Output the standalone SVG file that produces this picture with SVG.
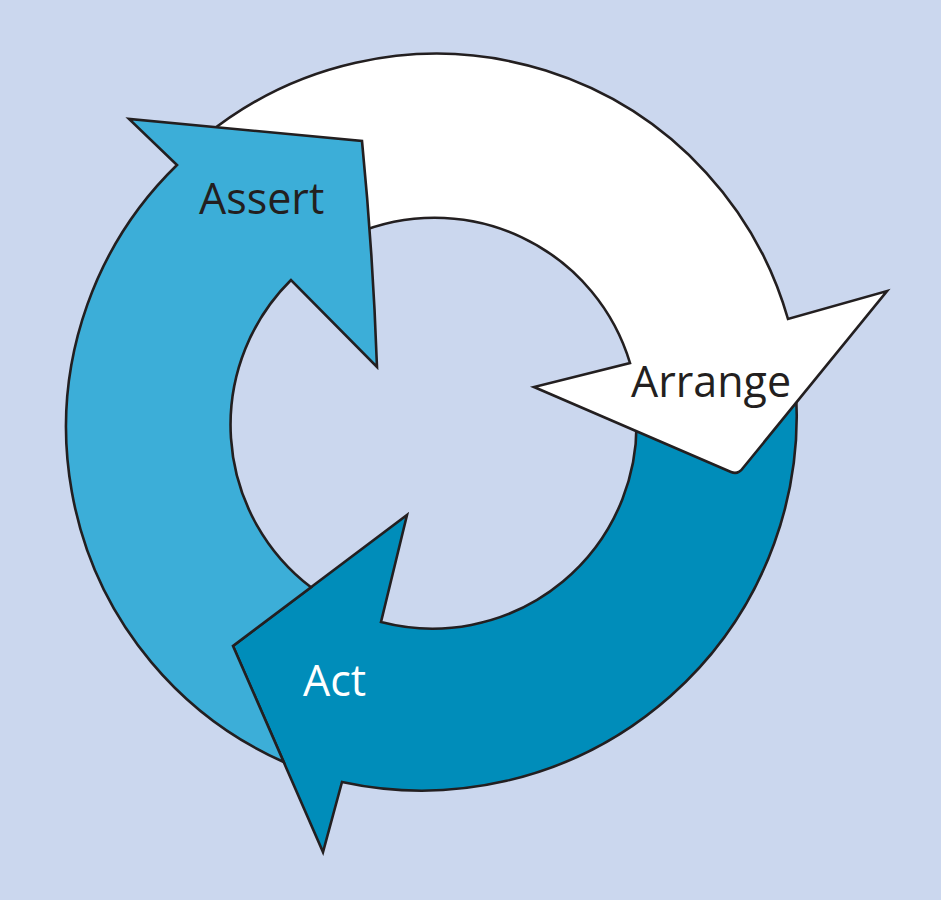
<svg xmlns="http://www.w3.org/2000/svg" width="941" height="900" viewBox="0 0 941 900">
<style>
.arrow{stroke:#231F20;stroke-width:2.6;stroke-linejoin:miter;stroke-miterlimit:10}
.lbl{font-family:"Open Sans","Noto Sans","Liberation Sans",sans-serif;font-size:43px}
</style>
<rect x="0" y="0" width="941" height="900" fill="#CBD7EE"/>
<g id="act">
<path class="arrow" fill="#008DBA" d="M 795,380 A 375 375 0 0 1 342,782 L 323,852 L 233,646 L 407,515 L 381,622 A 204 204 0 0 0 636,410 Z"/>
<text class="lbl" x="303" y="696" fill="#FFFFFF">Act</text>
</g>
<g id="arrange">
<path class="arrow" fill="#FFFFFF" d="M 205,136 A 366 366 0 0 1 788,319 L 887,291 L 743,468 Q 738,475 731,472 L 534,387 L 630,363 A 204 204 0 0 0 355,234 Z"/>
<text class="lbl" x="631" y="397" fill="#231F20">Arrange</text>
</g>
<g id="assert">
<path class="arrow" fill="#3CAED8" d="M 177,165 A 366 366 0 0 0 283.7,762 L 233,646 L 311,587.3 A 204 204 0 0 1 291,280 L 377,367 Q 373,253 362,141 L 129,119 Z"/>
<text class="lbl" x="199" y="214" fill="#231F20">Assert</text>
</g>
<g id="connectors"></g>
</svg>
